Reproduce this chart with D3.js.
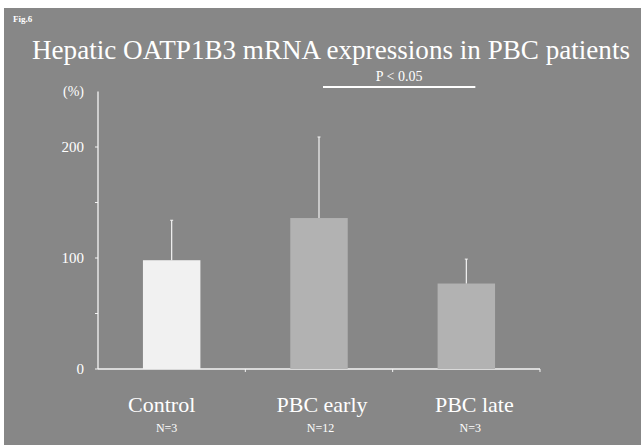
<!DOCTYPE html>
<html>
<head>
<meta charset="utf-8">
<script src="https://cdn.jsdelivr.net/npm/d3@7"></script>
<style>
  html, body { margin: 0; padding: 0; background: #ffffff; }
  svg text { font-family: "Liberation Serif", "Times New Roman", serif; fill: #ffffff; }
</style>
</head>
<body>
<div id="chart"></div>
<script>
// dados
const categorias = ["Control", "PBC early", "PBC late"];
const amostras = ["N=3", "N=12", "N=3"];
const medias = [98, 136, 77];
const desvios = [36, 73, 22];
const ticksY = [0, 100, 200];
const ticksMenores = [50, 150];

const width = 641, height = 445;
const svg = d3.select("#chart").append("svg").attr("width", width).attr("height", height);

// fundo do slide
svg.append("rect").attr("x", 4).attr("y", 8).attr("width", width - 4).attr("height", height - 8)
    .attr("fill", "#878787");

svg.append("text").attr("x", 13).attr("y", 22).text("Fig.6")
    .style("font-size", "9px").style("font-weight", "bold");

svg.append("text").attr("x", 32).attr("y", 59)
    .attr("textLength", 598).attr("lengthAdjust", "spacingAndGlyphs")
    .text("Hepatic OATP1B3 mRNA expressions in PBC patients")
    .style("font-size", "27px");

const x = d3.scaleBand().domain(categorias).range([98, 540]).paddingInner(0.61).paddingOuter(0.305);
const y = d3.scaleLinear().domain([0, 250]).range([369, 91.5]);

const g = svg.append("g");

// eixo Y
g.append("line").attr("x1", 98).attr("x2", 98).attr("y1", y(250)).attr("y2", y(0))
    .attr("stroke", "#f4f4f4").attr("stroke-width", 1.3);
g.selectAll(".tick-y").data(ticksY.concat(ticksMenores)).enter().append("line")
    .attr("x1", 95).attr("x2", 98).attr("y1", d => y(d)).attr("y2", d => y(d))
    .attr("stroke", "#f4f4f4").attr("stroke-width", 1);
g.selectAll(".rotulo-y").data(ticksY).enter().append("text")
    .attr("x", 84).attr("y", d => y(d) + 5).attr("text-anchor", "end")
    .text(d => d).style("font-size", "15px");
g.append("text").attr("x", 84).attr("y", 96).attr("text-anchor", "end").text("(%)")
    .style("font-size", "14px");

// eixo X
g.append("line").attr("x1", 98).attr("x2", 540).attr("y1", y(0)).attr("y2", y(0))
    .attr("stroke", "#f4f4f4").attr("stroke-width", 1.3);
const limites = categorias.map(c => x(c) + x.bandwidth() / 2 + x.step() / 2);
g.selectAll(".tick-x").data(limites).enter().append("line")
    .attr("x1", d => d).attr("x2", d => d).attr("y1", y(0)).attr("y2", y(0) + 3)
    .attr("stroke", "#f4f4f4");

// barras
const cores = ["#f1f1f1", "#b2b2b2", "#b2b2b2"];
g.selectAll(".barra").data(categorias).enter().append("rect")
    .attr("x", d => x(d)).attr("width", x.bandwidth())
    .attr("y", (d, i) => y(medias[i])).attr("height", (d, i) => y(0) - y(medias[i]))
    .attr("fill", (d, i) => cores[i]);

// barras de erro
g.selectAll(".erro").data(categorias).enter().append("line")
    .attr("x1", d => x(d) + x.bandwidth() / 2).attr("x2", d => x(d) + x.bandwidth() / 2)
    .attr("y1", (d, i) => y(medias[i])).attr("y2", (d, i) => y(medias[i] + desvios[i]))
    .attr("stroke", "#f4f4f4").attr("stroke-width", 1.2);
g.selectAll(".erro-cap").data(categorias).enter().append("line")
    .attr("x1", d => x(d) + x.bandwidth() / 2 - 1.5).attr("x2", d => x(d) + x.bandwidth() / 2 + 1.5)
    .attr("y1", (d, i) => y(medias[i] + desvios[i])).attr("y2", (d, i) => y(medias[i] + desvios[i]))
    .attr("stroke", "#f4f4f4").attr("stroke-width", 1);

// rotulos das categorias (levemente deslocados como no slide)
const deslocamento = [-10, 3, 8];
g.selectAll(".cat").data(categorias).enter().append("text")
    .attr("x", (d, i) => x(d) + x.bandwidth() / 2 + deslocamento[i]).attr("y", 412).attr("text-anchor", "middle")
    .text(d => d).style("font-size", "22px");
g.selectAll(".n").data(categorias).enter().append("text")
    .attr("x", (d, i) => x(d) + x.bandwidth() / 2 + deslocamento[i] / 2).attr("y", 432).attr("text-anchor", "middle")
    .text((d, i) => amostras[i]).style("font-size", "12px");

// significancia
const x1 = x("PBC early") + x.bandwidth() / 2 + 4, x2 = x("PBC late") + x.bandwidth() / 2 + 9;
g.append("line").attr("x1", x1).attr("x2", x2).attr("y1", 87).attr("y2", 87)
    .attr("stroke", "#ffffff").attr("stroke-width", 2);
g.append("text").attr("x", (x1 + x2) / 2).attr("y", 81).attr("text-anchor", "middle")
    .text("P < 0.05").style("font-size", "14px");
</script>
</body>
</html>
